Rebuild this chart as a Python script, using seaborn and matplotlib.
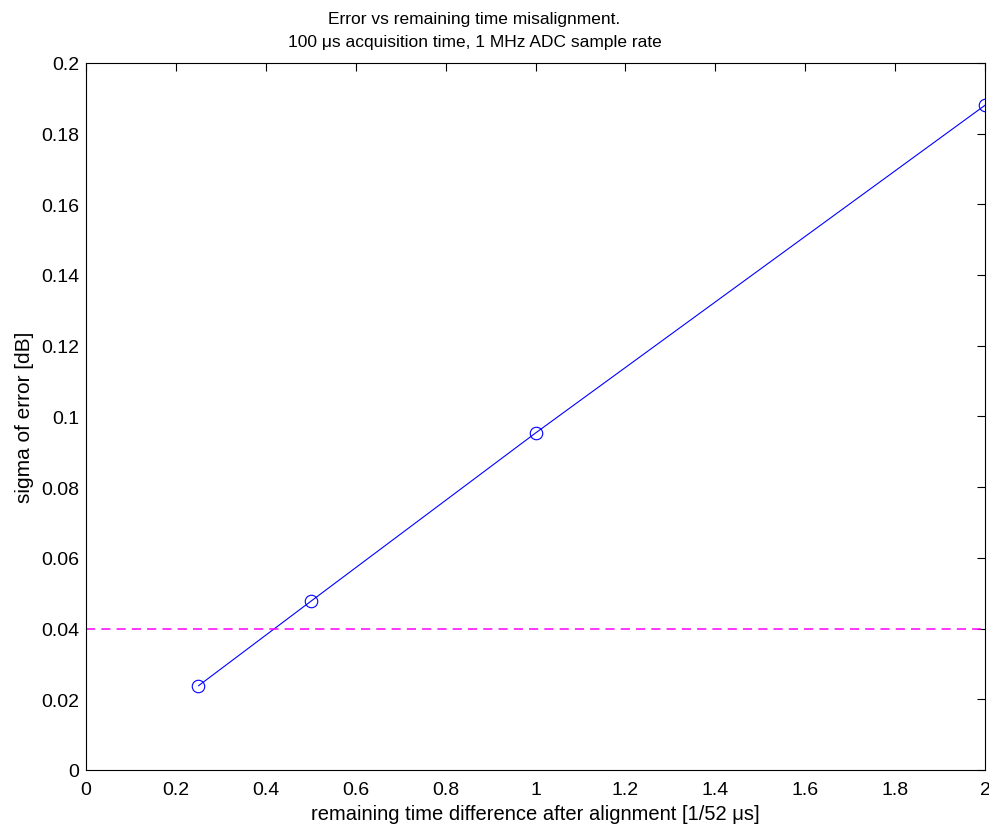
import matplotlib
matplotlib.use("Agg")
import matplotlib.pyplot as plt
import seaborn as sns
import pandas as pd

# remaining misalignment in units of 1/52 us, and resulting error sigma in dB
time_diff = [0.25, 0.5, 1.0, 2.0]
sigma_err = [0.0238, 0.0477, 0.0953, 0.188]
threshold = 0.04

x_ticks = [0, 0.2, 0.4, 0.6, 0.8, 1, 1.2, 1.4, 1.6, 1.8, 2]
x_labels = ["0", "0.2", "0.4", "0.6", "0.8", "1", "1.2", "1.4", "1.6", "1.8", "2"]
y_ticks = [0, 0.02, 0.04, 0.06, 0.08, 0.1, 0.12, 0.14, 0.16, 0.18, 0.2]
y_labels = ["0", "0.02", "0.04", "0.06", "0.08", "0.1", "0.12", "0.14", "0.16", "0.18", "0.2"]

sns.set_style("white")
plt.rcParams["font.family"] = ["Liberation Sans", "DejaVu Sans"]
plt.rcParams["text.color"] = "black"
plt.rcParams["axes.labelcolor"] = "black"

df = pd.DataFrame({"t": time_diff, "s": sigma_err})

fig = plt.figure(figsize=(9.89, 8.29), dpi=100)
ax = fig.add_axes([0.087, 0.070, 0.909, 0.853])

sns.lineplot(data=df, x="t", y="s", ax=ax, color="#0000ff", linewidth=0.8,
             marker="o", markersize=9, markerfacecolor="none",
             markeredgecolor="#0000ff", markeredgewidth=0.8)
ax.axhline(threshold, color="#ff00ff", linestyle=(0, (6, 4)), linewidth=1.1)

ax.set_xlim(0, 2)
ax.set_ylim(0, 0.2)
ax.set_xticks(x_ticks)
ax.set_xticklabels(x_labels)
ax.set_yticks(y_ticks)
ax.set_yticklabels(y_labels)
ax.tick_params(direction="in", length=6, width=0.8, top=True, right=True,
               labelsize=14, colors="black", pad=5)
ax.tick_params(axis="x", pad=8)
for sp in ax.spines.values():
    sp.set_color("black")
    sp.set_linewidth(0.8)

ax.set_xlabel("remaining time difference after alignment [1/52 μs]", fontsize=14.5,
              labelpad=4, color="black")
ax.set_ylabel("sigma of error [dB]", fontsize=15, labelpad=5, color="black")
ax.set_title("Error vs remaining time misalignment.\n100 μs acquisition time, 1 MHz ADC sample rate",
             fontsize=12.5, pad=12, linespacing=1.7, x=0.432, color="black")

fig.savefig("out.png", dpi=100, facecolor="white")
